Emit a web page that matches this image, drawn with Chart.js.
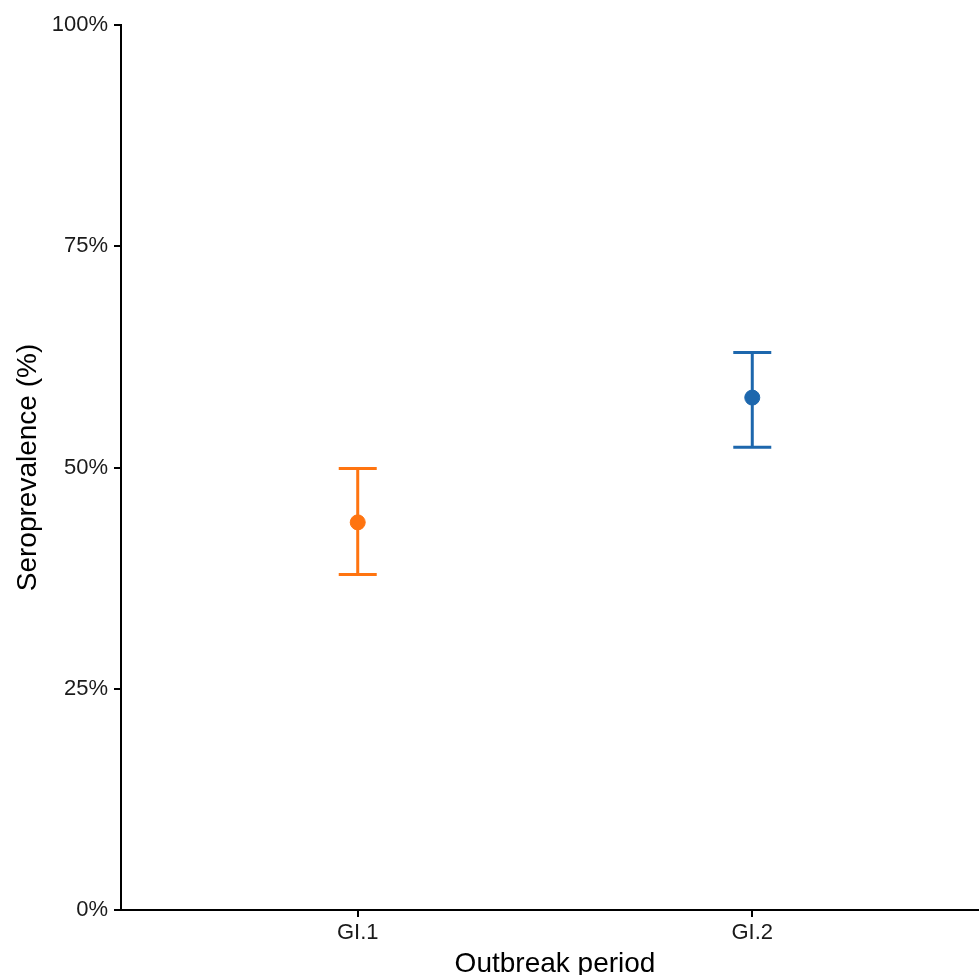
<!DOCTYPE html>
<html>
<head>
<meta charset="utf-8">
<script src="https://cdn.jsdelivr.net/npm/chart.js@4/dist/chart.umd.min.js"></script>
<style>
  html, body { margin: 0; background: #fff; overflow: hidden; }
  #wrap { width: 989px; height: 975px; }
  #my-chart { width: 989px; height: 975px; }
</style>
</head>
<body>
<div id="wrap"><canvas id="my-chart" width="989" height="975"></canvas></div>
<script>
const categories = ['GI.1', 'GI.2'];
const estimates = [43.8, 57.9];
const lowerCI = [37.9, 52.3];
const upperCI = [49.9, 63.0];
const yTicks = [0, 25, 50, 75, 100];
const pointColors = ['#ff7410', '#1d67ad'];

const FONT = "'Liberation Sans', Arial, sans-serif";

// error bars drawn under the points, using the chart's scales
const errorBars = {
  id: 'errorBars',
  beforeDatasetsDraw(chart) {
    const ctx = chart.ctx;
    const xs = chart.scales.x, ys = chart.scales.y;
    ctx.save();
    categories.forEach((c, i) => {
      const x = xs.getPixelForValue(i + 1);
      const yLo = ys.getPixelForValue(lowerCI[i]);
      const yHi = ys.getPixelForValue(upperCI[i]);
      const half = 19;
      ctx.strokeStyle = pointColors[i];
      ctx.lineWidth = 3;
      ctx.beginPath();
      ctx.moveTo(x, yLo); ctx.lineTo(x, yHi);
      ctx.moveTo(x - half, yLo); ctx.lineTo(x + half, yLo);
      ctx.moveTo(x - half, yHi); ctx.lineTo(x + half, yHi);
      ctx.stroke();
    });
    ctx.restore();
  }
};

const ctx = document.getElementById('my-chart').getContext('2d');
const chart = new Chart(ctx, {
  type: 'scatter',
  data: {
    datasets: [{
      data: categories.map((c, i) => ({ x: i + 1, y: estimates[i] })),
      backgroundColor: pointColors,
      borderColor: pointColors,
      pointRadius: 7.5,
      pointBorderWidth: 1
    }]
  },
  options: {
    responsive: false,
    animation: false,
    devicePixelRatio: 1,
    layout: { autoPadding: false, padding: { top: 25, right: 0, left: 0, bottom: 0 } },
    plugins: { legend: { display: false }, tooltip: { enabled: false } },
    scales: {
      x: {
        type: 'linear',
        min: 0.4,
        max: 2.6,
        afterBuildTicks: s => { s.ticks = categories.map((c, i) => ({ value: i + 1 })); },
        afterFit: s => { s.height = 65; s.paddingLeft = 0; s.paddingRight = 0; },
        ticks: {
          callback: v => categories[v - 1],
          color: '#1a1a1a',
          font: { family: FONT, size: 22 },
          padding: 3,
          maxRotation: 0
        },
        grid: { drawOnChartArea: false, drawTicks: true, tickLength: 7, color: '#000', lineWidth: 2 },
        border: { color: '#000', width: 2 },
        title: {
          display: true,
          text: 'Outbreak period',
          color: '#000',
          font: { family: FONT, size: 28, lineHeight: 1 },
          padding: { top: 0, bottom: -3 }
        }
      },
      y: {
        min: 0,
        max: 100,
        afterBuildTicks: s => { s.ticks = yTicks.map(v => ({ value: v })); },
        afterFit: s => { s.width = 121; },
        ticks: {
          callback: v => v + '%',
          color: '#1a1a1a',
          font: { family: FONT, size: 22 },
          padding: 6
        },
        grid: { drawOnChartArea: false, drawTicks: true, tickLength: 7, color: '#000', lineWidth: 2 },
        border: { color: '#000', width: 2 },
        title: {
          display: true,
          text: 'Seroprevalence (%)',
          color: '#000',
          font: { family: FONT, size: 28, lineHeight: 1 },
          padding: { top: 14, bottom: 0 }
        }
      }
    }
  },
  plugins: [errorBars]
});
</script>
</body>
</html>
